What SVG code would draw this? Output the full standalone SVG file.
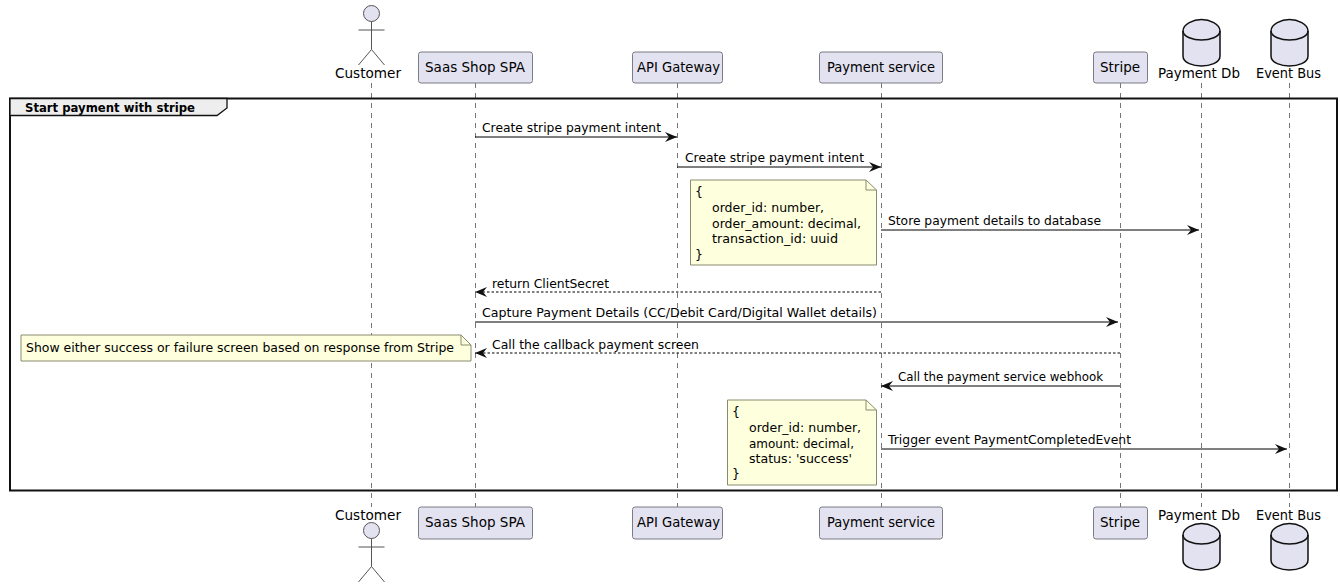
<svg xmlns="http://www.w3.org/2000/svg" width="1340" height="587" viewBox="0 0 1340 587">
<style>
text{font-family:"DejaVu Sans",sans-serif;fill:#000}
.p{font-size:14.5px}
.m{font-size:12.5px}
.life{stroke:#777;stroke-width:1;stroke-dasharray:5 5;fill:none}
.box{fill:#E2E2F0;stroke:#7b7b85;stroke-width:1}
.act{fill:#E2E2F0;stroke:#555;stroke-width:1}
.lim{fill:none;stroke:#555;stroke-width:1}
.db{fill:#E2E2F0;stroke:#111;stroke-width:1.5}
.dbl{fill:none;stroke:#111;stroke-width:1.5}
.note{fill:#FEFFDD;stroke:#8a8a70;stroke-width:1}
.fold{fill:none;stroke:#8a8a70;stroke-width:1}
.s{stroke:#000;stroke-width:1;fill:none}
.d{stroke:#000;stroke-width:1;stroke-dasharray:2.5 2;fill:none}
</style>
<defs>
<marker id="a" markerUnits="userSpaceOnUse" markerWidth="14" markerHeight="12" refX="12" refY="6" orient="auto"><path d="M0,1 L12,6 L0,11 L4,6Z" fill="#111"/></marker>
<g id="actor"><circle cx="0" cy="13.500" r="8" class="act"/><path class="lim" d="M0,21.500V49.500M-13,30H13M-13,65L0,49.500L13,65"/></g>
<g id="cyl"><path class="db" d="M-18.500,31C-18.500,24 -8,19.500 0,19.500C8,19.500 18.500,24 18.500,31V56C18.500,63 8,66 0,66C-8,66 -18.500,63 -18.500,56Z"/><path class="dbl" d="M-18.500,31C-18.500,37 -8,40 0,40C8,40 18.500,37 18.500,31"/></g>
</defs>
<g id="lifelines">
<path class="life" d="M371.500,83V507M475.500,83V507M677.500,83V507M881.500,83V507M1120.500,83V507M1201.500,83V507M1289.500,83V507"/>
</g>
<g id="frame">
<rect x="10" y="98.500" width="1327" height="392" fill="none" stroke="#111" stroke-width="2"/>
<path d="M10,98.500H227V108L217,115.500H10Z" fill="#EEE" stroke="#111" stroke-width="1.300"/>
<text x="25" y="112" font-size="12.500" font-weight="700" textLength="170" lengthAdjust="spacingAndGlyphs">Start payment with stripe</text>
</g>
<g id="connectors">
<path class="s" marker-end="url(#a)" d="M475,137H677"/>
<path class="s" marker-end="url(#a)" d="M677,167H881"/>
<path class="s" marker-end="url(#a)" d="M881,230H1199"/>
<path class="d" marker-end="url(#a)" d="M881,292H475"/>
<path class="s" marker-end="url(#a)" d="M475,322H1118"/>
<path class="d" marker-end="url(#a)" d="M1120,353H475"/>
<path class="s" marker-end="url(#a)" d="M1120,386H881"/>
<path class="s" marker-end="url(#a)" d="M881,449H1287"/>
<text class="m" x="482" y="132" textLength="179" lengthAdjust="spacingAndGlyphs">Create stripe payment intent</text>
<text class="m" x="685" y="162" textLength="179" lengthAdjust="spacingAndGlyphs">Create stripe payment intent</text>
<text class="m" x="888" y="225" textLength="213" lengthAdjust="spacingAndGlyphs">Store payment details to database</text>
<text class="m" x="492" y="288" textLength="117" lengthAdjust="spacingAndGlyphs">return ClientSecret</text>
<text class="m" x="482" y="317" textLength="395" lengthAdjust="spacingAndGlyphs">Capture Payment Details (CC/Debit Card/Digital Wallet details)</text>
<text class="m" x="492" y="349" textLength="207" lengthAdjust="spacingAndGlyphs">Call the callback payment screen</text>
<text class="m" x="898" y="381" textLength="205" lengthAdjust="spacingAndGlyphs">Call the payment service webhook</text>
<text class="m" x="888" y="444" textLength="243" lengthAdjust="spacingAndGlyphs">Trigger event PaymentCompletedEvent</text>
</g>
<g id="note-payment-details">
<path class="note" d="M690.500,180H866L876.500,190V265H690.500Z"/><path class="fold" d="M866,180V190H876.500"/>
<text class="m" x="695" y="196">{</text>
<text class="m" x="712" y="212" textLength="112" lengthAdjust="spacingAndGlyphs">order_id: number,</text>
<text class="m" x="712" y="228" textLength="149" lengthAdjust="spacingAndGlyphs">order_amount: decimal,</text>
<text class="m" x="712" y="243" textLength="126" lengthAdjust="spacingAndGlyphs">transaction_id: uuid</text>
<text class="m" x="695" y="259">}</text>
</g>
<g id="note-screen">
<path class="note" d="M21,335H461L471,345V361H21Z"/><path class="fold" d="M461,335V345H471"/>
<text class="m" x="26" y="352" textLength="428" lengthAdjust="spacingAndGlyphs">Show either success or failure screen based on response from Stripe</text>
</g>
<g id="note-event">
<path class="note" d="M727.500,400H866L876.500,410V485H727.500Z"/><path class="fold" d="M866,400V410H876.500"/>
<text class="m" x="732" y="416">{</text>
<text class="m" x="749" y="432" textLength="112" lengthAdjust="spacingAndGlyphs">order_id: number,</text>
<text class="m" x="749" y="448" textLength="105" lengthAdjust="spacingAndGlyphs">amount: decimal,</text>
<text class="m" x="749" y="463" textLength="103" lengthAdjust="spacingAndGlyphs">status: 'success'</text>
<text class="m" x="732" y="478">}</text>
</g>
<g id="customer-top"><use href="#actor" x="371.500" y="0"/><text class="p" x="335" y="78" textLength="66" lengthAdjust="spacingAndGlyphs">Customer</text></g>
<g id="saas-top"><rect class="box" x="418.500" y="52" width="114" height="31" rx="2.500"/><text class="p" x="425" y="72" textLength="100" lengthAdjust="spacingAndGlyphs">Saas Shop SPA</text></g>
<g id="gateway-top"><rect class="box" x="632.500" y="52" width="90" height="31" rx="2.500"/><text class="p" x="637" y="72" textLength="83" lengthAdjust="spacingAndGlyphs">API Gateway</text></g>
<g id="payment-top"><rect class="box" x="819.500" y="52" width="123" height="31" rx="2.500"/><text class="p" x="827" y="72" textLength="108" lengthAdjust="spacingAndGlyphs">Payment service</text></g>
<g id="stripe-top"><rect class="box" x="1093.500" y="52" width="54" height="31" rx="2.500"/><text class="p" x="1100" y="72" textLength="40" lengthAdjust="spacingAndGlyphs">Stripe</text></g>
<g id="db-top"><use href="#cyl" x="1201.500" y="0"/><text class="p" x="1158" y="78" textLength="82" lengthAdjust="spacingAndGlyphs">Payment Db</text></g>
<g id="bus-top"><use href="#cyl" x="1289.500" y="0"/><text class="p" x="1256" y="78" textLength="65" lengthAdjust="spacingAndGlyphs">Event Bus</text></g>
<g id="customer-bottom"><use href="#actor" x="371.500" y="517"/><text class="p" x="335" y="520" textLength="66" lengthAdjust="spacingAndGlyphs">Customer</text></g>
<g id="saas-bottom"><rect class="box" x="418.500" y="507" width="114" height="32" rx="2.500"/><text class="p" x="425" y="527" textLength="100" lengthAdjust="spacingAndGlyphs">Saas Shop SPA</text></g>
<g id="gateway-bottom"><rect class="box" x="632.500" y="507" width="90" height="32" rx="2.500"/><text class="p" x="637" y="527" textLength="83" lengthAdjust="spacingAndGlyphs">API Gateway</text></g>
<g id="payment-bottom"><rect class="box" x="819.500" y="507" width="123" height="32" rx="2.500"/><text class="p" x="827" y="527" textLength="108" lengthAdjust="spacingAndGlyphs">Payment service</text></g>
<g id="stripe-bottom"><rect class="box" x="1093.500" y="507" width="54" height="32" rx="2.500"/><text class="p" x="1100" y="527" textLength="40" lengthAdjust="spacingAndGlyphs">Stripe</text></g>
<g id="db-bottom"><use href="#cyl" x="1201.500" y="504"/><text class="p" x="1158" y="520" textLength="82" lengthAdjust="spacingAndGlyphs">Payment Db</text></g>
<g id="bus-bottom"><use href="#cyl" x="1289.500" y="504"/><text class="p" x="1256" y="520" textLength="65" lengthAdjust="spacingAndGlyphs">Event Bus</text></g>
</svg>
